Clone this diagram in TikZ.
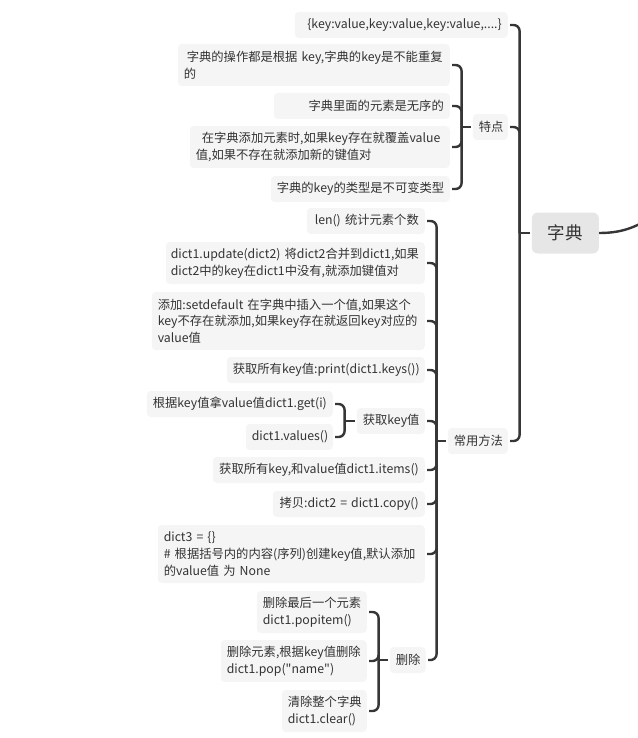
\documentclass[tikz,border=0pt]{standalone}
\usepackage{fontspec}
\setmainfont{Noto Sans CJK SC}
\usetikzlibrary{calc}
\newcommand\dblq{\XeTeXglyph\XeTeXcharglyph"22\relax}
\definecolor{txt}{HTML}{333333}
\definecolor{boxfill}{HTML}{F5F5F5}
\definecolor{rootfill}{HTML}{E6E6E6}
\definecolor{linec}{HTML}{363636}
\begin{document}
\begin{tikzpicture}[x=1pt,y=-1pt,
  item/.style={fill=boxfill, rounded corners=4pt, text=txt, inner xsep=6pt, inner ysep=1pt,
    anchor=east, font=\fontsize{12.3}{16.7}\selectfont},
  oneline/.style={item, minimum height=26pt, align=right},
  twoline/.style={item, minimum height=42pt, align=left},
  threeline/.style={item, minimum height=58pt, align=left},
  rootbox/.style={fill=rootfill, rounded corners=6pt, text=txt, anchor=east,
    minimum width=67pt, minimum height=41pt, font=\fontsize{17.5}{20}\selectfont},
  conn/.style={draw=linec, line width=2.4pt, rounded corners=6pt},
  fromchild/.style={conn, shorten <=2pt},
  toparent/.style={conn, shorten >=2pt}]
\useasboundingbox (0,0) rectangle (637,738);

% root
\node[rootbox] (root) at (599,233) {字典};
\coordinate (offp) at (665,208);
\draw[conn] (root.east) .. controls (625,233) and (640,226) .. (offp);

% level 1
\node[oneline, text width=201pt] (kv) at (508,25) {\{key:value,key:value,key:value,....\}};
\node[oneline, text width=23pt, align=center] (tedian) at (508,127) {特点};
\node[oneline, text width=48pt, align=center] (changyong) at (508,441) {常用方法};

% 特点 children
\node[twoline, text width=260pt] (c1) at (450,65) {\hspace*{3pt}字典的操作都是根据 key,字典的key是不能重复\\的};
\node[oneline, text width=164pt] (c2) at (450,106) {字典里面的元素是无序的};
\node[twoline, text width=248pt] (c3) at (450,147) {\hspace*{6pt}在字典添加元素时,如果key存在就覆盖value\\值,如果不存在就添加新的键值对};
\node[oneline, text width=167pt] (c4) at (450,189) {字典的key的类型是不可变类型};

% 常用方法 children
\node[oneline, text width=106pt] (m1) at (425,221) {len() 统计元素个数};
\node[twoline, text width=251pt, inner xsep=4pt] (m2) at (425,263) {\hspace*{1pt}\mbox{dict1.update(dict2) 将dict2合并到dict1,如果}\\\hspace*{1pt}dict2中的key在dict1中没有,就添加键值对};
\node[threeline, text width=261pt] (m3) at (425,321) {添加:setdefault 在字典中插入一个值,如果这个\\key不存在就添加,如果key存在就返回key对应的\\value值};
\node[oneline, text width=186pt] (m4) at (425,370) {获取所有key值:print(dict1.keys())};
\node[oneline, text width=56pt, align=center] (m5) at (425,421) {获取key值};
\node[oneline, text width=174pt] (g1) at (333,404) {根据key值拿value值dict1.get(i)};
\node[oneline, text width=75pt] (g2) at (333,437) {dict1.values()};
\node[oneline, text width=200pt] (m6) at (425,470) {获取所有key,和value值dict1.items()};
\node[oneline, text width=140pt] (m7) at (425,504) {拷贝:dict2 = dict1.copy()};
\node[threeline, text width=255pt] (m8) at (425,554) {dict3 = \{\}\\\# 根据括号内的内容(序列)创建key值,默认添加\\的value值 为 None};
\node[oneline, text width=24pt, align=center] (m9) at (426,660) {删除};
\node[twoline, text width=98pt] (d1) at (367,612) {删除最后一个元素\\dict1.popitem()};
\node[twoline, text width=134pt] (d2) at (367,661) {删除元素,根据key值删除\\dict1.pop(\dblq name\dblq)};
\node[twoline, text width=73pt] (d3) at (367,711) {清除整个字典\\dict1.clear()};

% junctions
\coordinate (jroot) at ($(root.west)+(-12,0)$);
\coordinate (jted) at ($(tedian.west)+(-11,0)$);
\coordinate (jchy) at ($(changyong.west)+(-11,0)$);
\coordinate (jm5) at ($(m5.west)+(-12,0)$);
\coordinate (jm9) at ($(m9.west)+(-11,0)$);

% root connectors
\foreach \c in {kv,tedian,changyong} \draw[fromchild] (\c.east) -| (jroot);
\draw[toparent] (jroot) -- (root.west);

% 特点 connectors
\foreach \c in {c1,c2,c3,c4} \draw[fromchild] (\c.east) -| (jted);
\draw[toparent] (jted) -- (tedian.west);

% 常用方法 connectors
\foreach \c in {m1,m2,m3,m4,m5,m6,m7,m8,m9} \draw[fromchild] (\c.east) -| (jchy);
\draw[toparent] (jchy) -- (changyong.west);

% 获取key值 connectors
\foreach \c in {g1,g2} \draw[fromchild] (\c.east) -| (jm5);
\draw[toparent] (jm5) -- (m5.west);

% 删除 connectors
\foreach \c in {d1,d2,d3} \draw[fromchild] (\c.east) -| (jm9);
\draw[toparent] (jm9) -- (m9.west);
\end{tikzpicture}
\end{document}
